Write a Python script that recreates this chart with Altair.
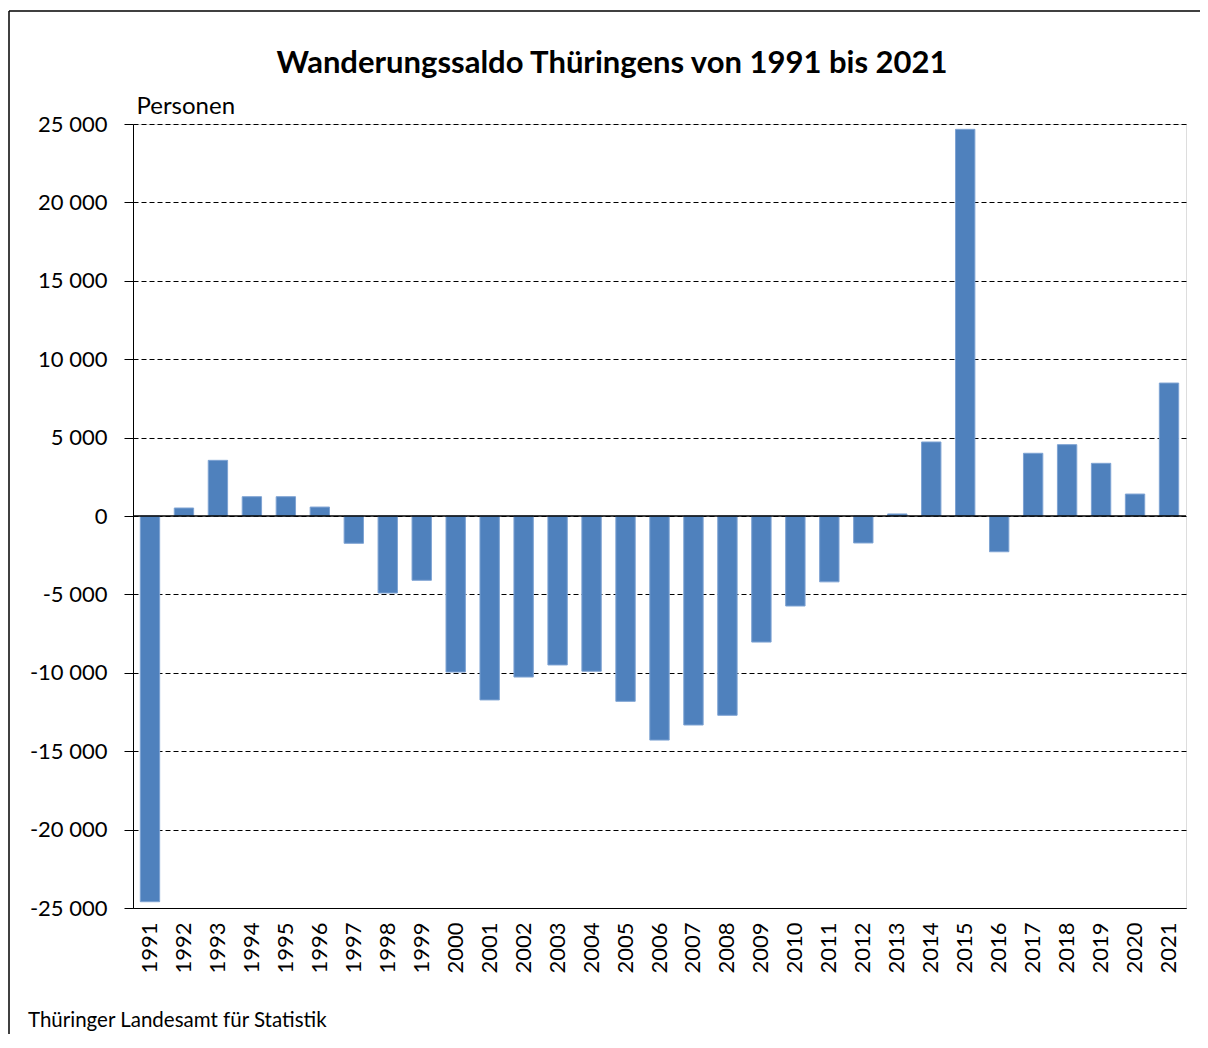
import altair as alt
import pandas as pd

years = [str(y) for y in range(1991, 2022)]
saldo = [-24600, 510, 3550, 1230, 1230, 570, -1740, -4910, -4100, -9950,
         -11730, -10270, -9500, -9900, -11820, -14290, -13330, -12710, -8040, -5740,
         -4200, -1720, 130, 4720, 24660, -2280, 4000, 4550, 3360, 1400, 8480]

title_text = "Wanderungssaldo Thüringens von 1991 bis 2021"
footer_text = "Thüringer Landesamt für Statistik"

df = pd.DataFrame({"Jahr": years, "Saldo": saldo})
one = pd.DataFrame({"k": [0]})

FONT = "Lato"
W, H = 1053, 784

bars = alt.Chart(df).mark_bar(color="#4F81BD", stroke="#7EA3D3", strokeWidth=1).encode(
    x=alt.X("Jahr:N", sort=years, title=None,
            scale=alt.Scale(paddingInner=0.43, paddingOuter=0.215),
            axis=alt.Axis(labelAngle=-90, labelFontSize=22, labelFont=FONT,
                          labelColor="#000", labelPadding=14, ticks=False,
                          domainColor="#000", labelOverlap=False)),
    y=alt.Y("Saldo:Q", title="Personen",
            scale=alt.Scale(domain=[-25000, 25000], nice=False),
            axis=alt.Axis(values=list(range(-25000, 25001, 5000)),
                          labelExpr="replace(replace(format(datum.value, ','), ',', ' '), '−', '-')",
                          labelFontSize=22, labelFont=FONT, labelColor="#000",
                          labelPadding=17, tickSize=9, tickColor="#000",
                          domainColor="#000", grid=True, gridColor="#000",
                          gridDash=[5, 3], gridWidth=1,
                          titleAngle=0, titleX=3, titleY=-11, titleAlign="left",
                          titleBaseline="alphabetic", titleFontSize=24,
                          titleFont=FONT, titleFontWeight="normal",
                          titleColor="#000")),
)

zero = alt.Chart(one).mark_rule(color="#000", strokeWidth=1.3).encode(y=alt.datum(0))

frame_left = alt.Chart(one).mark_rule(color="#000", strokeWidth=1.5).encode(
    x=alt.value(-124), y=alt.value(-113), y2=alt.value(H + 200))
frame_top = alt.Chart(one).mark_rule(color="#000", strokeWidth=1.5).encode(
    x=alt.value(-124), x2=alt.value(W + 200), y=alt.value(-113))

title = alt.Chart(one).mark_text(text=title_text, align="center",
                                 baseline="alphabetic", font=FONT, fontSize=31,
                                 fontWeight="bold", color="#000").encode(
    x=alt.value(479), y=alt.value(-51))

footer = alt.Chart(one).mark_text(text=footer_text, align="left",
                                  baseline="alphabetic", font=FONT, fontSize=20.5,
                                  color="#000").encode(x=alt.value(-105), y=alt.value(903))

chart = alt.layer(frame_left, frame_top, bars, zero, title, footer).properties(
    width=W, height=H,
    autosize=alt.AutoSizeParams(type="none"),
    padding={"left": 125, "top": 116, "right": 14, "bottom": 126},
).configure_view(stroke="#555", strokeWidth=1.2).configure(background="white")

chart.save("out.html", embed_options={"renderer": "svg", "actions": False})
